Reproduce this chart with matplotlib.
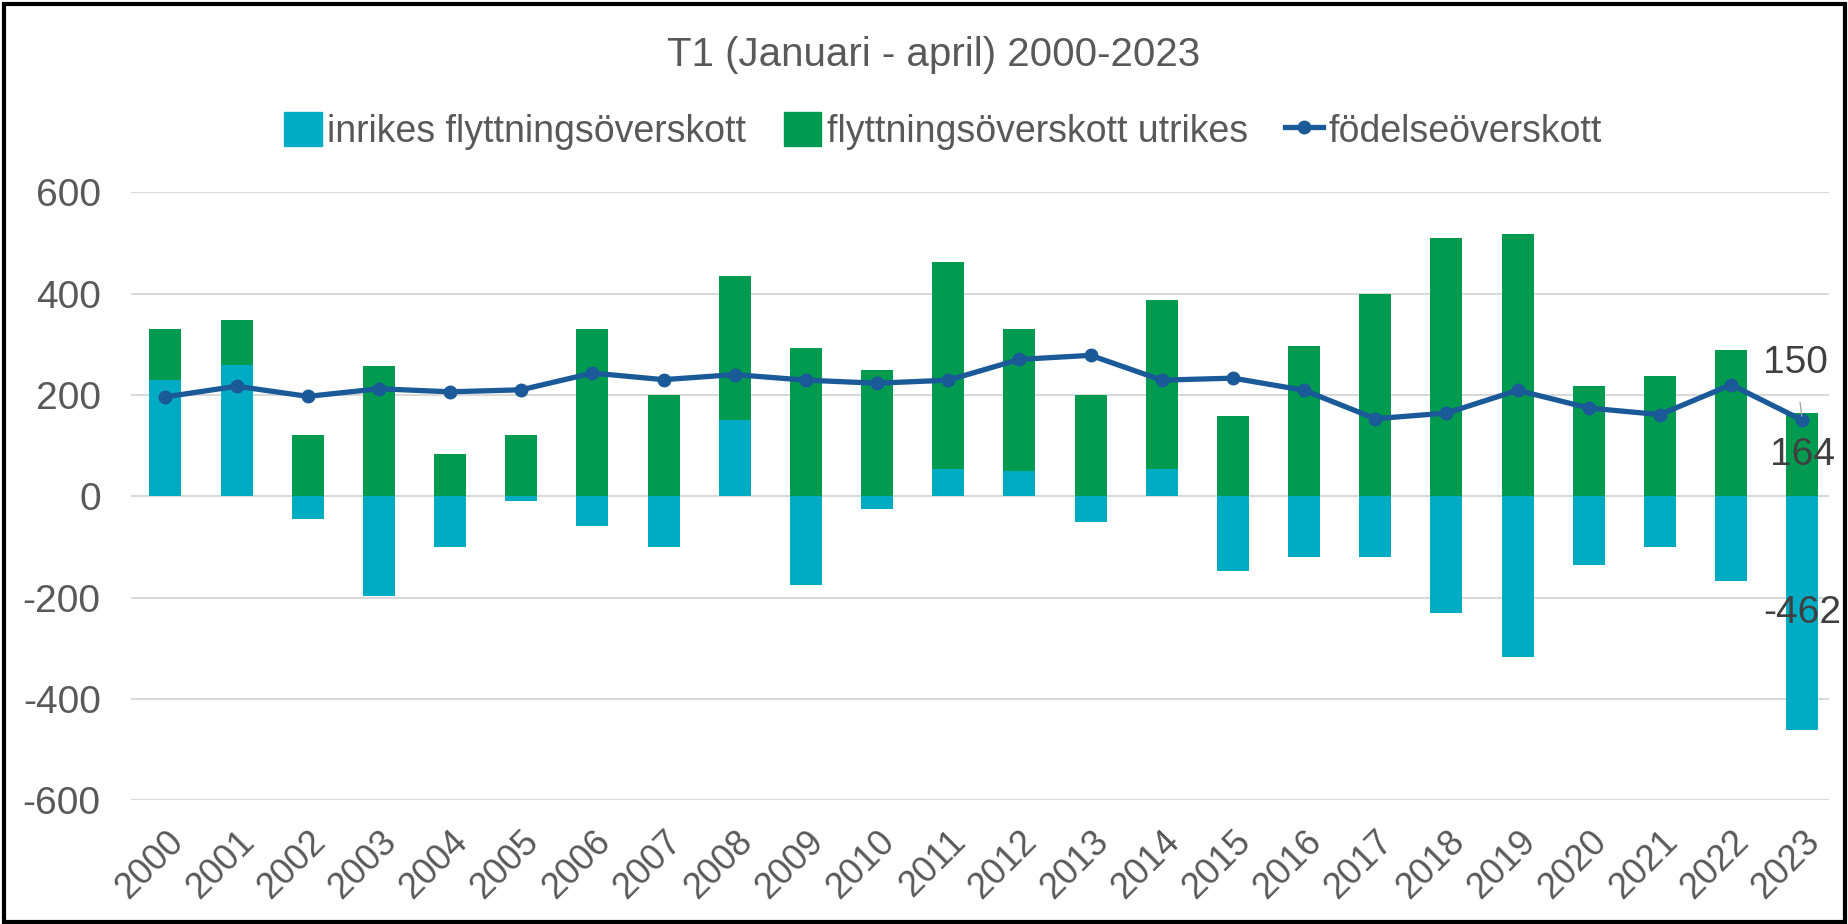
import numpy as np
import matplotlib
matplotlib.use("Agg")
import matplotlib.pyplot as plt
from matplotlib.patches import Rectangle
from matplotlib.lines import Line2D

years = [str(y) for y in range(2000, 2024)]
inrikes = [230, 258, -45, -197, -101, -10, -58, -101, 151, -176, -26, 53,
           49, -50, 53, -148, -120, -120, -231, -318, -136, -101, -168, -462]
utrikes = [100, 90, 120, 257, 84, 120, 330, 200, 284, 293, 250, 410,
           280, 199, 335, 158, 297, 400, 510, 518, 218, 237, 289, 164]
fodelse = [196, 217, 197, 212, 206, 210, 243, 230, 240, 229, 223, 229,
           270, 278, 229, 233, 209, 153, 164, 209, 174, 161, 220, 150]

c_inr = "#00ACC3"
c_utr = "#009A50"
c_line = "#1B5A98"
grey = "#595959"

plt.rcParams["font.family"] = ["Liberation Sans", "DejaVu Sans"]
plt.rcParams["axes.unicode_minus"] = False

fig = plt.figure(figsize=(18.49, 9.24), dpi=100)
ax = fig.add_axes([0.071, 0.134, 0.918, 0.658])

x = np.arange(len(years))
inr = np.array(inrikes)
utr = np.array(utrikes)
bottom_utr = np.where(inr > 0, inr, 0)

ax.bar(x, inr, width=0.45, color=c_inr, zorder=2)
ax.bar(x, utr, width=0.45, bottom=bottom_utr, color=c_utr, zorder=2)
ax.plot(x, fodelse, color=c_line, lw=3.8, marker="o", ms=9, zorder=3)

ax.set_ylim(-600, 600)
ax.set_yticks(range(-600, 601, 200))
ax.set_xlim(-0.48, len(years) - 0.63)
ax.set_xticks(x)
ax.set_xticklabels(years, rotation=45, ha="right", rotation_mode="anchor")
ax.tick_params(axis="both", length=0, labelsize=28, colors=grey)
ax.tick_params(axis="y", pad=22)
ax.tick_params(axis="x", pad=17, labelsize=26)
ax.grid(axis="y", color="#D9D9D9", lw=1.5, zorder=0)
for s in ax.spines.values():
    s.set_visible(False)

# data labels for the last year
last = len(years) - 1
ax.annotate(str(fodelse[last]), xy=(last, fodelse[last]), xytext=(last - 0.1, 262),
            fontsize=28, color="#404040", ha="center", va="center",
            arrowprops=dict(arrowstyle="-", color="#A6A6A6", lw=1, shrinkA=13, shrinkB=3))
ax.text(last, utr[last] / 2, str(utrikes[last]), fontsize=28, color="#404040",
        ha="center", va="center")
ax.text(last, inr[last] / 2, str(inrikes[last]), fontsize=28, color="#404040",
        ha="center", va="center")

handles = [Rectangle((0, 0), 1, 1, color=c_inr),
           Rectangle((0, 0), 1, 1, color=c_utr),
           Line2D([], [], color=c_line, lw=3.8, marker="o", ms=9)]
labels = ["inrikes flyttningsöverskott", "flyttningsöverskott utrikes", "födelseöverskott"]
fig.legend(handles, labels, loc="center", bbox_to_anchor=(0.51, 0.858), ncol=3,
           frameon=False, fontsize=27, labelcolor=grey, handlelength=1.0,
           handleheight=1.0, handletextpad=0.15, columnspacing=1.0)

fig.text(0.505, 0.94, "T1 (Januari - april) 2000-2023", ha="center", va="center",
         fontsize=29, color=grey)

fig.patches.append(Rectangle((0.002, 0.002), 0.996, 0.994, transform=fig.transFigure,
                             fill=False, edgecolor="black", lw=3))

fig.savefig("out.png", dpi=100)
